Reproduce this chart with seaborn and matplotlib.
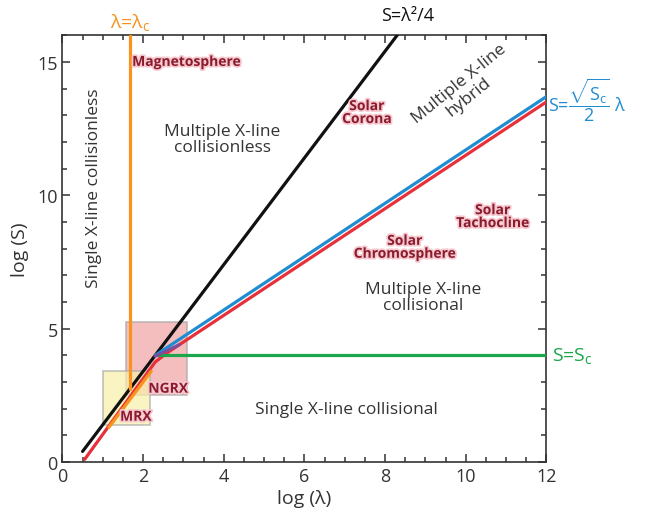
import matplotlib
matplotlib.use("Agg")
import matplotlib.pyplot as plt
import matplotlib.patheffects as pe
from matplotlib.patches import Rectangle
from matplotlib.ticker import MultipleLocator
import seaborn as sns

sns.set_theme(style="ticks")
plt.rcParams['font.family'] = ['Open Sans', 'DejaVu Sans']
plt.rcParams['mathtext.fontset'] = 'custom'
plt.rcParams['mathtext.rm'] = 'Open Sans'
plt.rcParams['mathtext.it'] = 'Open Sans'

# ---- data (log lambda, log S) ----
black_x = [0.5, 8.3]
black_y = [0.4, 16.0]
blue_x = [2.3, 12.0]
blue_y = [4.0, 13.7]
red_x = [0.55, 2.3, 2.6, 12.0]
red_y = [0.1, 3.75, 4.1, 13.5]
purple_x = [2.3, 2.9]
purple_y = [3.97, 4.4]
orange_vx = [1.67, 1.67]
orange_vy = [16.0, 2.74]
orange_dx = [1.15, 2.2]
orange_dy = [1.3, 3.4]
green_x = [2.35, 12.0]
green_y = [4.0, 4.0]

# boxes: (x0, x1, y0, y1)
mrx_box = (1.0, 2.17, 1.4, 3.4)
ngrx_box = (1.57, 3.08, 2.5, 5.25)

# region labels
region_text = ["Multiple X-line\ncollisionless", "Multiple X-line\ncollisional",
               "Single X-line collisional"]
region_x = [3.96, 8.95, 7.05]
region_y = [12.1, 6.2, 2.0]

# objects (dark red labels)
obj_text = ["Magnetosphere", "Solar\nCorona", "Solar\nChromosphere",
            "Solar\nTachocline", "NGRX", "MRX"]
obj_x = [3.08, 7.55, 8.49, 10.67, 2.62, 1.82]
obj_y = [15.0, 13.1, 8.05, 9.2, 2.75, 1.7]

fig = plt.figure(figsize=(6.47, 5.1), dpi=100)
ax = fig.add_axes([0.0965, 0.092, 0.748, 0.837])

# shaded boxes
ax.add_patch(Rectangle((ngrx_box[0], ngrx_box[2]), ngrx_box[1] - ngrx_box[0],
                       ngrx_box[3] - ngrx_box[2], facecolor='#f2a8a8', alpha=0.75,
                       edgecolor='#a8a8a8', lw=1.2, zorder=1))
ax.add_patch(Rectangle((mrx_box[0], mrx_box[2]), mrx_box[1] - mrx_box[0],
                       mrx_box[3] - mrx_box[2], facecolor='#f8f0a8', alpha=0.7,
                       edgecolor='#a8a8a8', lw=1.2, zorder=1))

lw = 2.3
lines = [
    (black_x, black_y, '#111111', 3),
    (red_x, red_y, '#e8303a', 3),
    (blue_x, blue_y, '#1f8dd0', 4),
    (purple_x, purple_y, '#7b4f9e', 5),
    (orange_vx, orange_vy, '#f7931e', 4),
    (orange_dx, orange_dy, '#f7931e', 4),
    (green_x, green_y, '#1aa64a', 4),
]
for xs, ys, c, z in lines:
    sns.lineplot(x=xs, y=ys, color=c, lw=lw, ax=ax, sort=False,
                 estimator=None, zorder=z)

# region labels
for t, x, y in zip(region_text, region_x, region_y):
    ax.text(x, y, t, ha='center', va='center', fontsize=12.5, color='#333333',
            linespacing=1.0, zorder=6)
ax.text(0.78, 10.3, "Single X-line collisionless", rotation=90, ha='center',
        va='center', fontsize=12.5, color='#333333', zorder=6)
ax.text(9.95, 13.95, "Multiple X-line\nhybrid", rotation=39, ha='center',
        va='center', fontsize=12.5, color='#333333', linespacing=1.0, zorder=6,
        rotation_mode='anchor')

glow = [pe.withStroke(linewidth=2.5, foreground='#f6c8cf')]
for t, x, y in zip(obj_text, obj_x, obj_y):
    ax.text(x, y, t, ha='center', va='center', fontsize=10, fontweight='bold',
            color='#8a1a2c', linespacing=0.9, zorder=7, path_effects=glow)

# curve annotations outside the frame
ax.text(1.67, 16.5, r'λ=λ$_\mathregular{c}$', color='#f7931e', fontsize=14,
        ha='center', va='center', clip_on=False)
ax.text(8.55, 16.75, 'S=λ²/4', color='#111111', fontsize=13,
        ha='center', va='center', clip_on=False)
ax.text(12.05, 13.6, r'S=$\mathregular{\dfrac{\sqrt{S_c}}{2}}$ λ', color='#1f8dd0',
        fontsize=13, ha='left', va='center', clip_on=False)
ax.text(12.15, 4.0, r'S=S$_\mathregular{c}$', color='#1aa64a', fontsize=14,
        ha='left', va='center', clip_on=False)

ax.set_xlim(0, 12)
ax.set_ylim(0, 16)
ax.xaxis.set_major_locator(MultipleLocator(2))
ax.xaxis.set_minor_locator(MultipleLocator(0.5))
ax.yaxis.set_major_locator(MultipleLocator(5))
ax.yaxis.set_minor_locator(MultipleLocator(1))
ax.tick_params(which='both', direction='in', top=True, right=True,
               colors='#333333', labelsize=13, width=1.1)
ax.tick_params(which='major', length=6)
ax.tick_params(which='minor', length=3.5)
for s in ax.spines.values():
    s.set_color('#333333')
    s.set_linewidth(1.2)

ax.set_xlabel('log (λ)', fontsize=14, color='#333333', labelpad=3)
ax.set_ylabel('log (S)', fontsize=14, color='#333333', labelpad=6)

fig.savefig('out.png', dpi=100)
